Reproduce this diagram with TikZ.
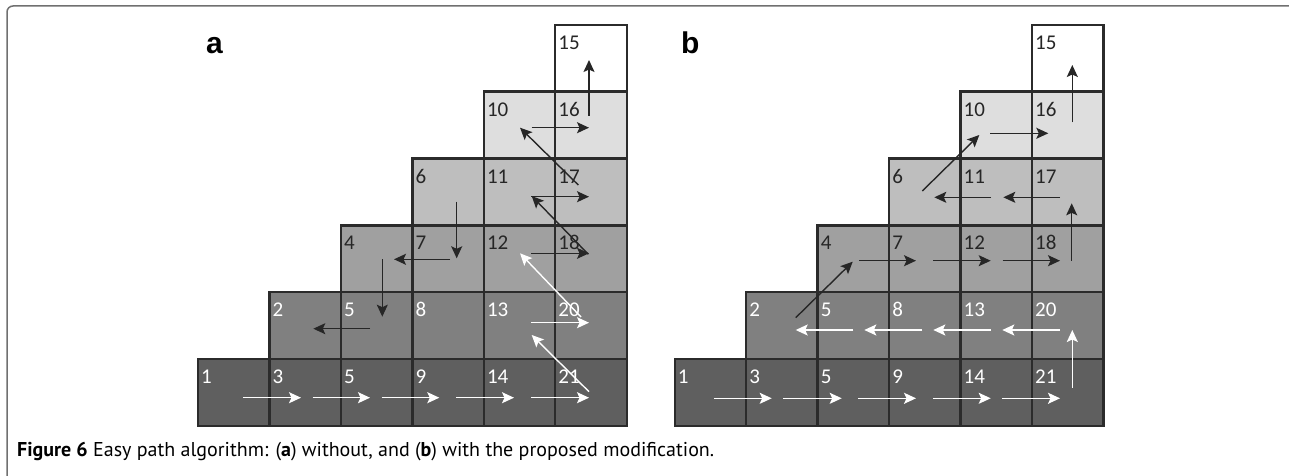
\documentclass[tikz,border=0pt]{standalone}
\usepackage{fontspec}
\setmainfont{Carlito}
\newfontfamily\capfont{PT Sans}
\newfontfamily\tagfont{Liberation Sans}
\usetikzlibrary{arrows.meta}
\definecolor{rowA}{HTML}{5F5F5F}
\definecolor{rowB}{HTML}{808080}
\definecolor{rowC}{HTML}{A0A0A0}
\definecolor{rowD}{HTML}{BEBEBE}
\definecolor{rowE}{HTML}{DEDEDE}
\definecolor{ink}{HTML}{262626}
\definecolor{edge}{HTML}{2B2B2B}
\definecolor{frame}{HTML}{707070}
\tikzset{
  cell/.style={draw=edge, line width=2.4pt, minimum width=71.45pt, minimum height=66.8pt, inner sep=0pt, outer sep=0pt},
  num/.style={anchor=base west, inner sep=0pt, font=\fontsize{21}{23}\selectfont},
  tag/.style={anchor=base west, inner sep=0pt, font=\tagfont\bfseries\fontsize{30}{32}\selectfont},
  arr/.style={line width=1.4pt, -{Stealth[length=12pt,width=11pt,inset=2.5pt]}},
  warr/.style={arr, white},
  darr/.style={arr, ink},
}
\begin{document}
\begin{tikzpicture}[x=1pt,y=-1pt]
\useasboundingbox (0,0) rectangle (1289,476);
% page frame
\draw[frame, line width=1.5pt, rounded corners=6pt] (7,480) -- (7,6) -- (1295,6);

% staircase grids of both panels
\foreach \p/\x in {a/198, b/674.7} {
  \foreach \r/\cols/\shade in {1/0/rowA, 2/1/rowB, 3/2/rowC, 4/3/rowD, 5/4/rowE, 6/5/white} {
    \foreach \c in {\cols,...,5} {
      \node[cell, fill=\shade] (\p-\r-\c) at ({\x+(\c+0.5)*71.45}, {425.7-(\r-0.5)*66.8}) {};
    }
  }
}

% cell numbers
\foreach \p in {a,b} {
  \foreach \c/\t in {0/1,1/3,2/5,3/9,4/14,5/21}
    \node[num, text=white] (\p-n-1-\c) at ([shift={(3,24.5)}]\p-1-\c.north west) {\t};
  \foreach \c/\t in {1/2,2/5,3/8,4/13,5/20}
    \node[num, text=white] (\p-n-2-\c) at ([shift={(3,24.5)}]\p-2-\c.north west) {\t};
  \foreach \c/\t in {2/4,3/7,4/12,5/18}
    \node[num, text=ink] (\p-n-3-\c) at ([shift={(3,24.5)}]\p-3-\c.north west) {\t};
  \foreach \c/\t in {3/6,4/11,5/17}
    \node[num, text=ink] (\p-n-4-\c) at ([shift={(3,24.5)}]\p-4-\c.north west) {\t};
  \foreach \c/\t in {4/10,5/16}
    \node[num, text=ink] (\p-n-5-\c) at ([shift={(3,24.5)}]\p-5-\c.north west) {\t};
  \node[num, text=ink] (\p-n-6-5) at ([shift={(3,24.5)}]\p-6-5.north west) {15};
}

% panel tags
\node[tag] (taga) at (206,54) {a};
\node[tag] (tagb) at (681,54) {b};

% panel a: path without the modification
\draw[warr] (243.3,397.7) -- (301,397.7);
\draw[warr] (312.7,397.7) -- (370,397.7);
\draw[warr] (381.7,397.7) -- (439.3,397.7);
\draw[warr] (456,397.7) -- (514,397.7);
\draw[warr] (531,397.7) -- (589,397.7);
\draw[warr] (589,391.7) -- (531.7,335);
\draw[warr] (531,322.7) -- (589,322.7);
\draw[warr] (581,317) -- (520,253.3);
\draw[darr] (531,253.3) -- (589,253.3);
\draw[darr] (588.3,254.3) -- (531.7,196);
\draw[darr] (531,196.7) -- (589,196.7);
\draw[darr] (578.3,185) -- (520,127.7);
\draw[darr] (531.7,127.7) -- (589,127.7);
\draw[darr] (589,116) -- (589,60);
\draw[darr] (456.7,201.7) -- (456.7,258.3);
\draw[darr] (450,259.3) -- (394,259.3);
\draw[darr] (382.3,259.3) -- (382.3,316.7);
\draw[darr] (370,328.7) -- (313.3,328.7);

% panel b: path with the modification
\draw[warr] (714.3,398.3) -- (771.7,398.3);
\draw[warr] (783.3,398.3) -- (841.7,398.3);
\draw[warr] (858.3,398.3) -- (916,398.3);
\draw[warr] (933.3,398.3) -- (990.7,398.3);
\draw[warr] (1002.3,398.3) -- (1060,398.3);
\draw[warr] (1072.3,387.7) -- (1072.3,330);
\draw[warr] (1060,330) -- (1002.3,330);
\draw[warr] (991,330) -- (933.3,330);
\draw[warr] (922.3,330) -- (864.3,330);
\draw[warr] (853.3,330) -- (795.7,330);
\draw[darr] (795.7,317.7) -- (852.7,261.7);
\draw[darr] (859.3,260.7) -- (916,260.7);
\draw[darr] (933.3,260.7) -- (990.7,260.7);
\draw[darr] (1002.7,260.7) -- (1060,260.7);
\draw[darr] (1071.7,260.7) -- (1071.7,203.3);
\draw[darr] (1060,197.3) -- (1003.3,197.3);
\draw[darr] (991,197.3) -- (934.3,197.3);
\draw[darr] (922.3,191) -- (979.3,135);
\draw[darr] (990,133.3) -- (1048.3,133.3);
\draw[darr] (1072.3,122.3) -- (1072.3,65);

% caption
\node[anchor=base west, inner sep=0pt, font=\capfont\fontsize{20}{22}\selectfont] (caption) at (17,456)
  {\textbf{Figure 6} Easy path algorithm: (\textbf{a}) without, and (\textbf{b}) with the proposed modification.};
\end{tikzpicture}
\end{document}
